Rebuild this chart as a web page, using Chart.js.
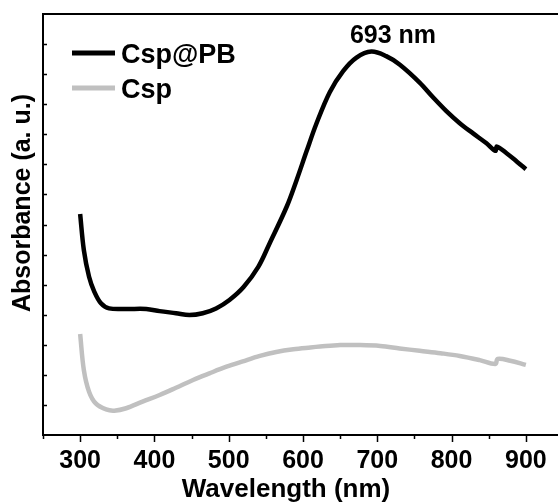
<!DOCTYPE html>
<html>
<head>
<meta charset="utf-8">
<script src="https://cdn.jsdelivr.net/npm/chart.js@4.4.1/dist/chart.umd.min.js"></script>
<style>
  html, body { margin: 0; padding: 0; background: #fff; }
  #wrap { width: 558px; height: 502px; overflow: hidden; }
</style>
</head>
<body>
<div id="wrap"><canvas id="uvChart" width="563" height="502"></canvas></div>
<script>
// UV-vis absorbance spectra
const seriesNames = ['Csp@PB', 'Csp'];

const wlCspPB = [300, 305, 312, 319, 328, 339, 362, 389, 407, 429, 447, 465, 483, 501, 520, 540, 555, 578, 591, 605, 618, 636, 654, 672, 692, 712, 730, 757, 775, 793, 811, 829, 847, 859, 861, 874, 888, 900];
const absCspPB = [0.735, 0.615, 0.526, 0.477, 0.438, 0.421, 0.419, 0.419, 0.412, 0.405, 0.399, 0.405, 0.421, 0.449, 0.492, 0.560, 0.637, 0.759, 0.845, 0.945, 1.035, 1.140, 1.210, 1.255, 1.275, 1.260, 1.232, 1.172, 1.123, 1.077, 1.037, 1.003, 0.970, 0.945, 0.959, 0.937, 0.909, 0.884];

const wlCsp = [300, 305, 312, 321, 335, 346, 362, 384, 407, 429, 452, 474, 497, 519, 542, 564, 587, 610, 623, 650, 677, 704, 730, 757, 785, 811, 838, 859, 862, 879, 900];
const absCsp = [0.336, 0.216, 0.144, 0.105, 0.085, 0.081, 0.089, 0.111, 0.133, 0.157, 0.183, 0.205, 0.227, 0.245, 0.263, 0.276, 0.285, 0.291, 0.294, 0.299, 0.299, 0.296, 0.288, 0.280, 0.272, 0.263, 0.249, 0.236, 0.253, 0.247, 0.233];

const xTicks = [300, 400, 500, 600, 700, 800, 900];
const peakLabel = '693 nm';

const FONT = "'Liberation Sans', Arial, Helvetica, sans-serif";
const colors = ['#000000', '#c0c0c0'];

function toPoints(xs, ys) {
    return xs.map((x, i) => ({ x: x, y: ys[i] }));
}

// axes frame, tick marks, legend and titles
const decorPlugin = {
    id: 'decor',
    afterDraw(chart) {
        const ctx = chart.ctx;
        const area = chart.chartArea;
        const xs = chart.scales.x;
        const ys = chart.scales.y;
        ctx.save();
        ctx.strokeStyle = '#000';
        ctx.lineWidth = 2;
        ctx.beginPath();
        ctx.moveTo(area.left, area.top);
        ctx.lineTo(area.right, area.top);
        ctx.moveTo(area.left, area.top - 1);
        ctx.lineTo(area.left, area.bottom + 1);
        ctx.moveTo(area.left, area.bottom);
        ctx.lineTo(area.right, area.bottom);
        ctx.stroke();

        // x ticks: major outward, minor in between
        ctx.lineWidth = 1.5;
        ctx.beginPath();
        for (let v = xs.min; v <= xs.max; v += 50) {
            const px = Math.round(xs.getPixelForValue(v)) + 0.5;
            const len = xTicks.includes(v) ? 7 : 4;
            ctx.moveTo(px, area.bottom);
            ctx.lineTo(px, area.bottom + len);
        }
        // y ticks point inward
        for (let v = 0.1; v < ys.max - 0.05; v += 0.1) {
            const py = Math.round(ys.getPixelForValue(v)) + 0.5;
            ctx.moveTo(area.left, py);
            ctx.lineTo(area.left + 4, py);
        }
        ctx.stroke();

        // legend
        ctx.font = 'bold 27px ' + FONT;
        ctx.textBaseline = 'alphabetic';
        ctx.textAlign = 'left';
        const legendY = [53, 88];
        chart.data.datasets.forEach((ds, i) => {
            ctx.strokeStyle = ds.borderColor;
            ctx.lineWidth = 5;
            ctx.beginPath();
            ctx.moveTo(72, legendY[i]);
            ctx.lineTo(115, legendY[i]);
            ctx.stroke();
            ctx.fillStyle = '#000';
            ctx.fillText(ds.label, 121, legendY[i] + 9.5);
        });

        // peak annotation
        ctx.font = 'bold 25px ' + FONT;
        ctx.textAlign = 'center';
        ctx.fillText(peakLabel, 393, 43);

        // axis titles
        ctx.font = 'bold 26px ' + FONT;
        ctx.fillText('Wavelength (nm)', 286, 497);
        ctx.translate(23, 203);
        ctx.rotate(-Math.PI / 2);
        ctx.font = 'bold 25px ' + FONT;
        ctx.textBaseline = 'middle';
        ctx.fillText('Absorbance (a. u.)', 0, 0);
        ctx.restore();
    }
};

const ctx = document.getElementById('uvChart').getContext('2d');
const uvChart = new Chart(ctx, {
    type: 'line',
    data: {
        datasets: [
            {
                label: seriesNames[0],
                data: toPoints(wlCspPB, absCspPB),
                borderColor: colors[0],
                borderWidth: 4.5,
                pointRadius: 0,
                tension: 0.35
            },
            {
                label: seriesNames[1],
                data: toPoints(wlCsp, absCsp),
                borderColor: colors[1],
                borderWidth: 4.5,
                pointRadius: 0,
                tension: 0.35
            }
        ]
    },
    options: {
        responsive: false,
        animation: false,
        devicePixelRatio: 1,
        layout: { padding: { top: 14, right: 0, left: 0, bottom: 0 } },
        plugins: {
            legend: { display: false },
            tooltip: { enabled: false }
        },
        scales: {
            x: {
                type: 'linear',
                min: 250,
                max: 950,
                grid: { display: false },
                border: { display: false },
                afterBuildTicks: (scale) => {
                    scale.ticks = xTicks.map(v => ({ value: v }));
                },
                afterFit: (scale) => { scale.height = 67; },
                ticks: {
                    color: '#000',
                    padding: 3,
                    maxRotation: 0,
                    autoSkip: false,
                    font: { family: FONT, size: 25, weight: 'bold' }
                }
            },
            y: {
                min: 0,
                max: 1.4,
                grid: { display: false },
                border: { display: false },
                ticks: { display: false },
                afterFit: (scale) => { scale.width = 43; }
            }
        }
    },
    plugins: [decorPlugin]
});
</script>
</body>
</html>
